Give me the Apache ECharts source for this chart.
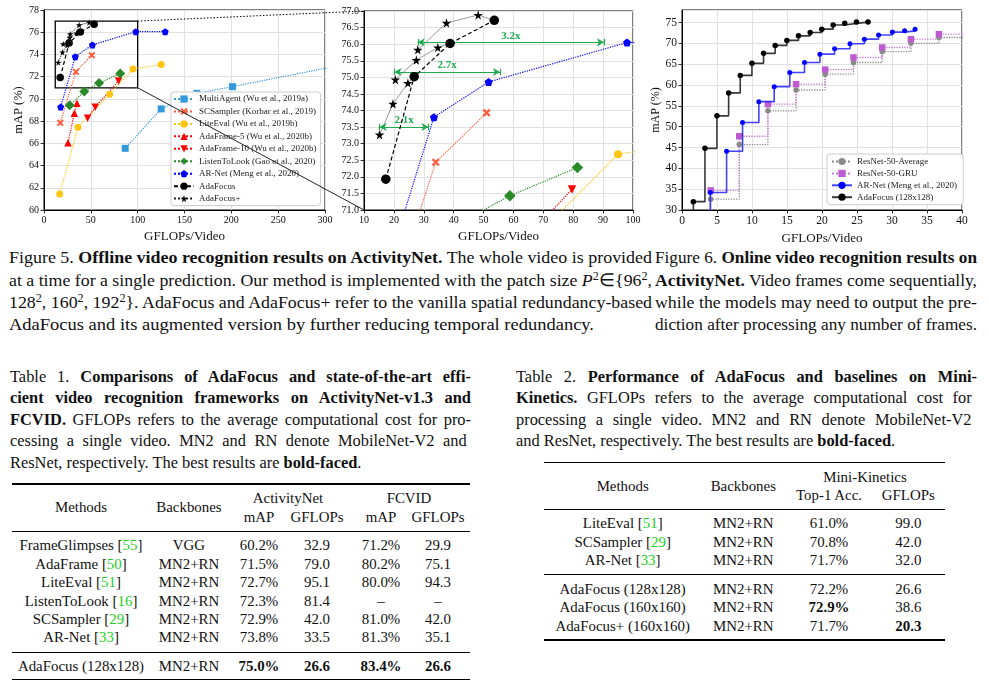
<!DOCTYPE html>
<html><head><meta charset="utf-8">
<script src="https://cdn.jsdelivr.net/npm/echarts@6/dist/echarts.min.js"></script>
<style>
html,body{margin:0;padding:0;background:#fff;}
body{width:989px;height:687px;position:relative;overflow:hidden;font-family:"Liberation Serif","Times New Roman",serif;color:#111;}
#chart{position:absolute;left:0;top:0;width:989px;height:242px;}
.ln{position:absolute;white-space:nowrap;line-height:20px;height:20px;transform-origin:0 50%;}
.cap{font-size:17.5px;}
.tc{font-size:16.4px;}
.cell{position:absolute;white-space:nowrap;font-size:14.9px;line-height:18px;transform:translate(-50%,-50%);}
.rule{position:absolute;background:#000;}
.ref{color:#22d022;}
sup{font-size:68%;vertical-align:baseline;position:relative;top:-0.5em;line-height:0;}
</style></head><body>
<div id="chart"></div>
<script>
// ---------------- Figure 5 data (GFLOPs, mAP) ----------------
const multiAgent   = [[86.7,65.55],[125.1,69.1],[163.2,70.5],[201.2,71.1],[330,73.25]];
const scSampler    = [[17.4,67.85],[34.0,72.44],[51.0,73.93]];
const liteEval     = [[16.7,61.45],[36.3,67.45],[70.0,70.42],[95.0,72.68],[125.1,73.1]];
const adaFrame5    = [[25.6,66.05],[32.4,68.7],[35.2,69.6]];
const adaFrame10   = [[46.6,68.25],[54.7,69.25],[79.6,71.62]];
const listenToLook = [[27.4,69.42],[43.0,70.66],[58.8,71.43],[81.4,72.28]];
const arNet        = [[17.8,69.28],[33.4,73.8],[51.7,74.86],[98.0,76.05],[129.4,76.05]];
const adaFocus     = [[17.3,71.93],[26.8,75.02],[38.8,76.02],[53.6,76.72]];
const adaFocusPlus128 = [[15.2,73.27],[19.7,74.2],[24.7,74.83]];
const adaFocusPlus160 = [[20.5,74.93],[27.5,75.52],[34.7,75.9]];
const adaFocusPlus192 = [[28.0,75.83],[37.6,76.64],[48.2,76.88]];
const zoomBox = [[12,77],[100,71]];
const speedups = [
  {label:'3.2x', from:28.0, to:90.3, y:76.06},
  {label:'2.7x', from:20.2, to:55.5, y:75.16},
  {label:'2.1x', from:15.2, to:31.6, y:73.5}
];
// ---------------- Figure 6 data (online) ----------------
const onAdaX  = [0,1.62,3.28,4.99,6.66,8.32,9.99,11.65,13.31,14.98,16.64,18.31,19.97,21.59,23.25,24.92,26.58];
const onAdaY  = [20,32.0,44.8,52.6,58.1,62.3,65.2,67.6,69.5,70.7,71.8,72.6,73.4,74.4,74.8,75.1,75.1];
const onArX   = [0,4.04,6.37,8.65,10.98,13.17,15.4,17.5,19.7,21.8,24.0,26.05,28.08,30.06,31.8,33.3];
const onArY   = [20,34.2,44.1,51.0,56.0,59.6,63.0,65.4,67.4,68.7,69.9,71.0,72.0,72.7,73.0,73.4];
const onResX  = [0,4.1,8.18,12.27,16.3,20.45,24.5,28.6,32.7,36.7,41];
const onAvgY  = [20,32.6,45.7,53.8,58.8,62.6,65.4,68.0,70.0,71.4,72.2];
const onGruY  = [20,34.7,47.7,55.4,60.2,63.7,66.6,69.0,71.0,72.2,73.0];
// ---------------- Table data ----------------
const t1Methods = ['FrameGlimpses','AdaFrame','LiteEval','ListenToLook','SCSampler','AR-Net'];
const t1Refs = ['55','50','51','16','29','33'];
const t1Backbones = ['VGG','MN2+RN','MN2+RN','MN2+RN','MN2+RN','MN2+RN'];
const t1AnetMap = ['60.2%','71.5%','72.7%','72.3%','72.9%','73.8%'];
const t1AnetGflops = ['32.9','79.0','95.1','81.4','42.0','33.5'];
const t1FcvidMap = ['71.2%','80.2%','80.0%','–','81.0%','81.3%'];
const t1FcvidGflops = ['29.9','75.1','94.3','–','42.0','35.1'];
const t1Ours = ['AdaFocus (128x128)','MN2+RN','75.0%','26.6','83.4%','26.6'];
const t2Methods = ['LiteEval','SCSampler','AR-Net'];
const t2Refs = ['51','29','33'];
const t2Backbones = ['MN2+RN','MN2+RN','MN2+RN'];
const t2Acc = ['61.0%','70.8%','71.7%'];
const t2Gflops = ['99.0','42.0','32.0'];
const t2Ours = [
  ['AdaFocus (128x128)','MN2+RN','72.2%','26.6'],
  ['AdaFocus (160x160)','MN2+RN','<b>72.9%</b>','38.6'],
  ['AdaFocus+ (160x160)','MN2+RN','71.7%','<b>20.3</b>']
];

const FONT = 'Liberation Serif';
const STAR = 'path://M50,0 L61,35 L98,35 L68,57 L79,91 L50,70 L21,91 L32,57 L2,35 L39,35 Z';
const PENT = 'path://M50,0 L100,38 L81,100 L19,100 L0,38 Z';
const XMARK = 'path://M20,0 L50,30 L80,0 L100,20 L70,50 L100,80 L80,100 L50,70 L20,100 L0,80 L30,50 L0,20 Z';

const chart = echarts.init(document.getElementById('chart'));

function axisBase(fs){
  return {
    axisLine:{show:true,onZero:false,lineStyle:{color:'#000',width:1}},
    axisTick:{show:true,length:3.5,lineStyle:{color:'#000',width:0.8}},
    axisLabel:{fontFamily:FONT,fontSize:fs,color:'#111',margin:5},
    splitLine:{show:true,lineStyle:{color:'#e2e2e2',width:1}},
    nameTextStyle:{fontFamily:FONT,fontSize:13,color:'#111'}
  };
}

const defs = [
  {name:'MultiAgent (Wu et al., 2019a)', data:multiAgent, color:'#3399dd', symbol:'rect', s:[7,9]},
  {name:'SCSampler (Korbar et al., 2019)', data:scSampler, color:'#ff5a3c', symbol:XMARK, s:[7,8]},
  {name:'LiteEval (Wu et al., 2019b)', data:liteEval, color:'#ffc414', symbol:'circle', s:[7,8]},
  {name:'AdaFrame-5 (Wu et al., 2020b)', data:adaFrame5, color:'#ff0000', symbol:'triangle', s:[7.5,8.5]},
  {name:'AdaFrame-10 (Wu et al., 2020b)', data:adaFrame10, color:'#ff0000', symbol:'triangle', rot:180, s:[7.5,8.5]},
  {name:'ListenToLook (Gao et al., 2020)', data:listenToLook, color:'#2a8a2a', symbol:'diamond', s:[10,11.5]},
  {name:'AR-Net (Meng et al., 2020)', data:arNet, color:'#0000ff', symbol:PENT, s:[7,8]}
];

const series = [];
[0,1].forEach(gi=>{
  defs.forEach(d=>{
    series.push({
      type:'line', name:d.name, xAxisIndex:gi, yAxisIndex:gi, data:d.data,
      symbol:d.symbol, symbolSize:d.s[gi], symbolRotate:d.rot||0, symbolKeepAspect:true,
      itemStyle:{color:d.color}, lineStyle:{color:d.color,width:1.2,type:'dotted'},
      z:3
    });
  });
  [adaFocusPlus128, adaFocusPlus160, adaFocusPlus192].forEach((arr,k)=>{
    series.push({
      type:'line', name:'AdaFocus+', xAxisIndex:gi, yAxisIndex:gi,
      data: arr.map(p=>p).concat([{value:adaFocus[k+1], symbol:'none'}]),
      symbol:STAR, symbolSize: gi===0?6.5:9.5,
      itemStyle:{color:'#000'},
      lineStyle: gi===0 ? {color:'#222',width:1,type:'dotted'} : {color:'#9a9a9a',width:1,type:'solid'},
      z:4
    });
  });
  series.push({
    type:'line', name:'AdaFocus', xAxisIndex:gi, yAxisIndex:gi, data:adaFocus,
    symbol:'circle', symbolSize: gi===0?7.5:9.5,
    itemStyle:{color:'#000'}, lineStyle:{color:'#000',width:1.2,type:[4,2.5]}, z:5
  });
});

// zoom box on chart 1
series.push({
  type:'line', xAxisIndex:0, yAxisIndex:0, data:[], silent:true,
  markArea:{silent:true, itemStyle:{color:'rgba(0,0,0,0)',borderColor:'#000',borderWidth:1.3},
    data:[[{coord:zoomBox[0]},{coord:zoomBox[1]}]]}
});

// speedup arrows on chart 2
const GREEN = '#1faa4f';
const mlData = [];
speedups.forEach(s=>{
  mlData.push([{coord:[s.from,s.y],symbol:'arrow'},{coord:[s.to,s.y],symbol:'arrow',
     label:{show:true,formatter:s.label,position:'insideMiddleTop',distance:1,color:GREEN,fontFamily:FONT,fontWeight:'bold',fontSize:11}}]);
  [s.from,s.to].forEach(x=>{
    mlData.push([{coord:[x,s.y-0.1],symbol:'none',label:{show:false}},{coord:[x,s.y+0.1],symbol:'none',label:{show:false}}]);
  });
});
series.push({
  type:'line', xAxisIndex:1, yAxisIndex:1, data:[], silent:true,
  markLine:{silent:true, animation:false, symbol:['arrow','arrow'], symbolSize:[6,7], precision:3,
    lineStyle:{color:GREEN,width:1.2,type:'solid'}, label:{show:false}, data:mlData}
});

// chart 3 series
function pairs(xs,ys){ return xs.map((x,i)=> i===0 ? {value:[x,ys[i]],symbol:'none'} : [x,ys[i]]); }
series.push({type:'line', name:'ResNet-50-Average', xAxisIndex:2, yAxisIndex:2, step:'end',
  data:pairs(onResX,onAvgY), symbol:'circle', symbolSize:5.5, itemStyle:{color:'#8a8a8a'},
  lineStyle:{color:'#8a8a8a',width:1.3,type:'dotted'}, z:3});
series.push({type:'line', name:'ResNet-50-GRU', xAxisIndex:2, yAxisIndex:2, step:'end',
  data:pairs(onResX,onGruY), symbol:'rect', symbolSize:6.5, itemStyle:{color:'#bf5bd0'},
  lineStyle:{color:'#c77ad6',width:1.3,type:'dotted'}, z:3});
series.push({type:'line', name:'AR-Net (Meng et al., 2020) ', xAxisIndex:2, yAxisIndex:2, step:'end',
  data:pairs(onArX,onArY), symbol:'circle', symbolSize:5, itemStyle:{color:'#0000ff'},
  lineStyle:{color:'#2222ff',width:1.6,opacity:0.85}, z:4});
series.push({type:'line', name:'AdaFocus (128x128)', xAxisIndex:2, yAxisIndex:2, step:'end',
  data:pairs(onAdaX,onAdaY), symbol:'circle', symbolSize:5.5, itemStyle:{color:'#000'},
  lineStyle:{color:'#222',width:1.6,opacity:0.9}, z:5});

const legendText = {fontFamily:FONT,fontSize:9,color:'#222',lineHeight:9,padding:0};
const option = {
  animation:false,
  textStyle:{fontFamily:FONT},
  grid:[
    {left:44, top:10, width:281, height:200, show:true, borderColor:'#000', borderWidth:1, containLabel:false, outerBoundsMode:'none'},
    {left:364, top:11, width:269, height:199, show:true, borderColor:'#000', borderWidth:1, containLabel:false, outerBoundsMode:'none'},
    {left:682, top:10, width:280, height:200, show:true, borderColor:'#000', borderWidth:1, containLabel:false, outerBoundsMode:'none'}
  ],
  xAxis:[
    Object.assign(axisBase(10),{type:'value',gridIndex:0,min:0,max:300,interval:50,name:'GFLOPs/Video',nameLocation:'middle',nameGap:16}),
    Object.assign(axisBase(10),{type:'value',gridIndex:1,min:10,max:100,interval:10,name:'GFLOPs/Video',nameLocation:'middle',nameGap:16}),
    Object.assign(axisBase(11.5),{type:'value',gridIndex:2,min:0,max:40,interval:5,name:'GFLOPs/Video',nameLocation:'middle',nameGap:16})
  ],
  yAxis:[
    Object.assign(axisBase(10),{type:'value',gridIndex:0,min:60,max:78,interval:2,name:'mAP (%)',nameLocation:'middle',nameGap:18,nameTextStyle:{fontFamily:FONT,fontSize:12.5,color:'#111'}}),
    (function(){const a=axisBase(10);a.axisLabel.formatter=v=>v.toFixed(1);return Object.assign(a,{type:'value',gridIndex:1,min:71,max:77,interval:0.5});})(),
    (function(){const a=axisBase(11.5);a.axisLabel.showMaxLabel=false;return Object.assign(a,{type:'value',gridIndex:2,min:30,max:78,interval:5,name:'mAP (%)',nameLocation:'middle',nameGap:16,nameTextStyle:{fontFamily:FONT,fontSize:12,color:'#111'}});})()
  ],
  legend:[
    {orient:'vertical', left:171, top:92, itemWidth:20, itemHeight:9, itemGap:3.45,
     padding:[2.5,4,2.5,2], backgroundColor:'#fff', borderColor:'#cccccc', borderWidth:1, borderRadius:3,
     textStyle:legendText, selectedMode:false,
     data:defs.map(d=>d.name).concat(['AdaFocus','AdaFocus+'])},
    {orient:'vertical', left:827, top:154, itemWidth:20, itemHeight:9, itemGap:2.9,
     padding:[3,4,3,4], backgroundColor:'#fff', borderColor:'#cccccc', borderWidth:1, borderRadius:3,
     textStyle:legendText, selectedMode:false,
     data:['ResNet-50-Average','ResNet-50-GRU','AR-Net (Meng et al., 2020) ','AdaFocus (128x128)']}
  ],
  series:series
};
chart.setOption(option);

// connector lines from the zoom box to the inset chart
const pTR = chart.convertToPixel({gridIndex:0},[zoomBox[1][0],zoomBox[0][1]]);
const pBR = chart.convertToPixel({gridIndex:0},[zoomBox[1][0],zoomBox[1][1]]);
const qTL = chart.convertToPixel({gridIndex:1},[10,77]);
const qBL = chart.convertToPixel({gridIndex:1},[10,71]);
chart.setOption({graphic:[
  {type:'line',z:100,shape:{x1:pTR[0],y1:pTR[1],x2:qTL[0],y2:qTL[1]},style:{stroke:'#000',lineWidth:1,lineDash:[1.5,1.8]}},
  {type:'line',z:100,shape:{x1:pBR[0],y1:pBR[1],x2:qBL[0],y2:qBL[1]},style:{stroke:'#222',lineWidth:1}}
]});

// ---------------- text ----------------
// mode: 'scale' -> always scale horizontally to width; 'justify' -> word-spacing (scale if too wide); 'none' -> natural
function line(html, left, cy, w, cls, mode){
  const d=document.createElement('div');
  d.className='ln '+cls; d.innerHTML=html;
  d.style.left=left+'px'; d.style.top=(cy-10)+'px';
  document.body.appendChild(d);
  const nat=d.getBoundingClientRect().width;
  if(mode==='scale' || nat>w){ d.style.transform='scaleX('+(w/nat)+')'; }
  else if(mode==='justify'){ const n=(d.textContent.match(/ /g)||[]).length; if(n) d.style.wordSpacing=((w-nat)/n)+'px'; }
}
function cell(html,cx,cy){
  const d=document.createElement('div'); d.className='cell'; d.innerHTML=html;
  d.style.left=cx+'px'; d.style.top=cy+'px'; document.body.appendChild(d);
}
function rule(x1,x2,y,h){
  const d=document.createElement('div'); d.className='rule';
  d.style.left=x1+'px'; d.style.width=(x2-x1)+'px'; d.style.top=(y-h/2)+'px'; d.style.height=h+'px';
  document.body.appendChild(d);
}

// Figure 5 caption
line('Figure 5. <b>Offline video recognition results on ActivityNet.</b> The whole video is provided',9,257,643,'cap','scale');
line('at a time for a single prediction. Our method is implemented with the patch size <i>P</i><sup>2</sup>∈{96<sup>2</sup>,',9,280,643,'cap','scale');
line('128<sup>2</sup>, 160<sup>2</sup>, 192<sup>2</sup>}. AdaFocus and AdaFocus+ refer to the vanilla spatial redundancy-based',9,302,643,'cap','scale');
line('AdaFocus and its augmented version by further reducing temporal redundancy.',9,324,585,'cap','scale');
// Figure 6 caption
line('Figure 6. <b>Online video recognition results on</b>',655,257,322,'cap','scale');
line('<b>ActivityNet.</b> Video frames come sequentially,',655,280,322,'cap','scale');
line('while the models may need to output the pre-',655,302,322,'cap','scale');
line('diction after processing any number of frames.',655,324,322,'cap','scale');
// Table 1 caption
line('Table 1. <b>Comparisons of AdaFocus and state-of-the-art effi-</b>',10,377,461,'tc','justify');
line('<b>cient video recognition frameworks on ActivityNet-v1.3 and</b>',10,398,461,'tc','justify');
line('<b>FCVID.</b> GFLOPs refers to the average computational cost for pro-',10,420,461,'tc','justify');
line('cessing a single video.  MN2 and RN denote MobileNet-V2 and',10,441,461,'tc','justify');
line('ResNet, respectively. The best results are <b>bold-faced</b>.',10,463,376,'tc','none');
// Table 2 caption
line('Table 2. <b>Performance of AdaFocus and baselines on Mini-</b>',516,377,461,'tc','justify');
line('<b>Kinetics.</b>  GFLOPs refers to the average computational cost for',516,398,461,'tc','justify');
line('processing a single video.  MN2 and RN denote MobileNet-V2',516,420,461,'tc','justify');
line('and ResNet, respectively. The best results are <b>bold-faced</b>.',516,441,405,'tc','none');

// Table 1
const c1=[81,189,259,317,381,438];
rule(11.7,470,484,1.3); rule(11.7,470,531,0.8); rule(11.7,470,652.3,0.8); rule(11.7,470,679.3,1.3);
cell('Methods',c1[0],507); cell('Backbones',c1[1],507);
cell('ActivityNet',288,498); cell('FCVID',409,498);
cell('mAP',c1[2],517); cell('GFLOPs',c1[3],517); cell('mAP',c1[4],517); cell('GFLOPs',c1[5],517);
const r1=[545.3,563.7,582,600.5,619,637.3];
t1Methods.forEach((m,i)=>{
  cell(m+' [<span class="ref">'+t1Refs[i]+'</span>]',c1[0],r1[i]);
  cell(t1Backbones[i],c1[1],r1[i]);
  cell(t1AnetMap[i],c1[2],r1[i]); cell(t1AnetGflops[i],c1[3],r1[i]);
  cell(t1FcvidMap[i],c1[4],r1[i]); cell(t1FcvidGflops[i],c1[5],r1[i]);
});
t1Ours.forEach((v,j)=>cell(j>=2?'<b>'+v+'</b>':v,c1[j],666));

// Table 2
const c2=[622.7,743.3,829,908.3];
rule(544.3,945,462.3,1.3); rule(544.3,945,509.3,0.8); rule(544.3,945,574.3,0.8); rule(544.3,945,640,1.3);
cell('Methods',c2[0],486); cell('Backbones',c2[1],486);
cell('Mini-Kinetics',865,477); cell('Top-1 Acc.',c2[2],495); cell('GFLOPs',c2[3],495);
const r2=[523.3,542.3,560];
t2Methods.forEach((m,i)=>{
  cell(m+' [<span class="ref">'+t2Refs[i]+'</span>]',c2[0],r2[i]);
  cell(t2Backbones[i],c2[1],r2[i]); cell(t2Acc[i],c2[2],r2[i]); cell(t2Gflops[i],c2[3],r2[i]);
});
const r2b=[589,607.3,626];
t2Ours.forEach((row,i)=>row.forEach((v,j)=>cell(v,c2[j],r2b[i])));
</script>
</body></html>
